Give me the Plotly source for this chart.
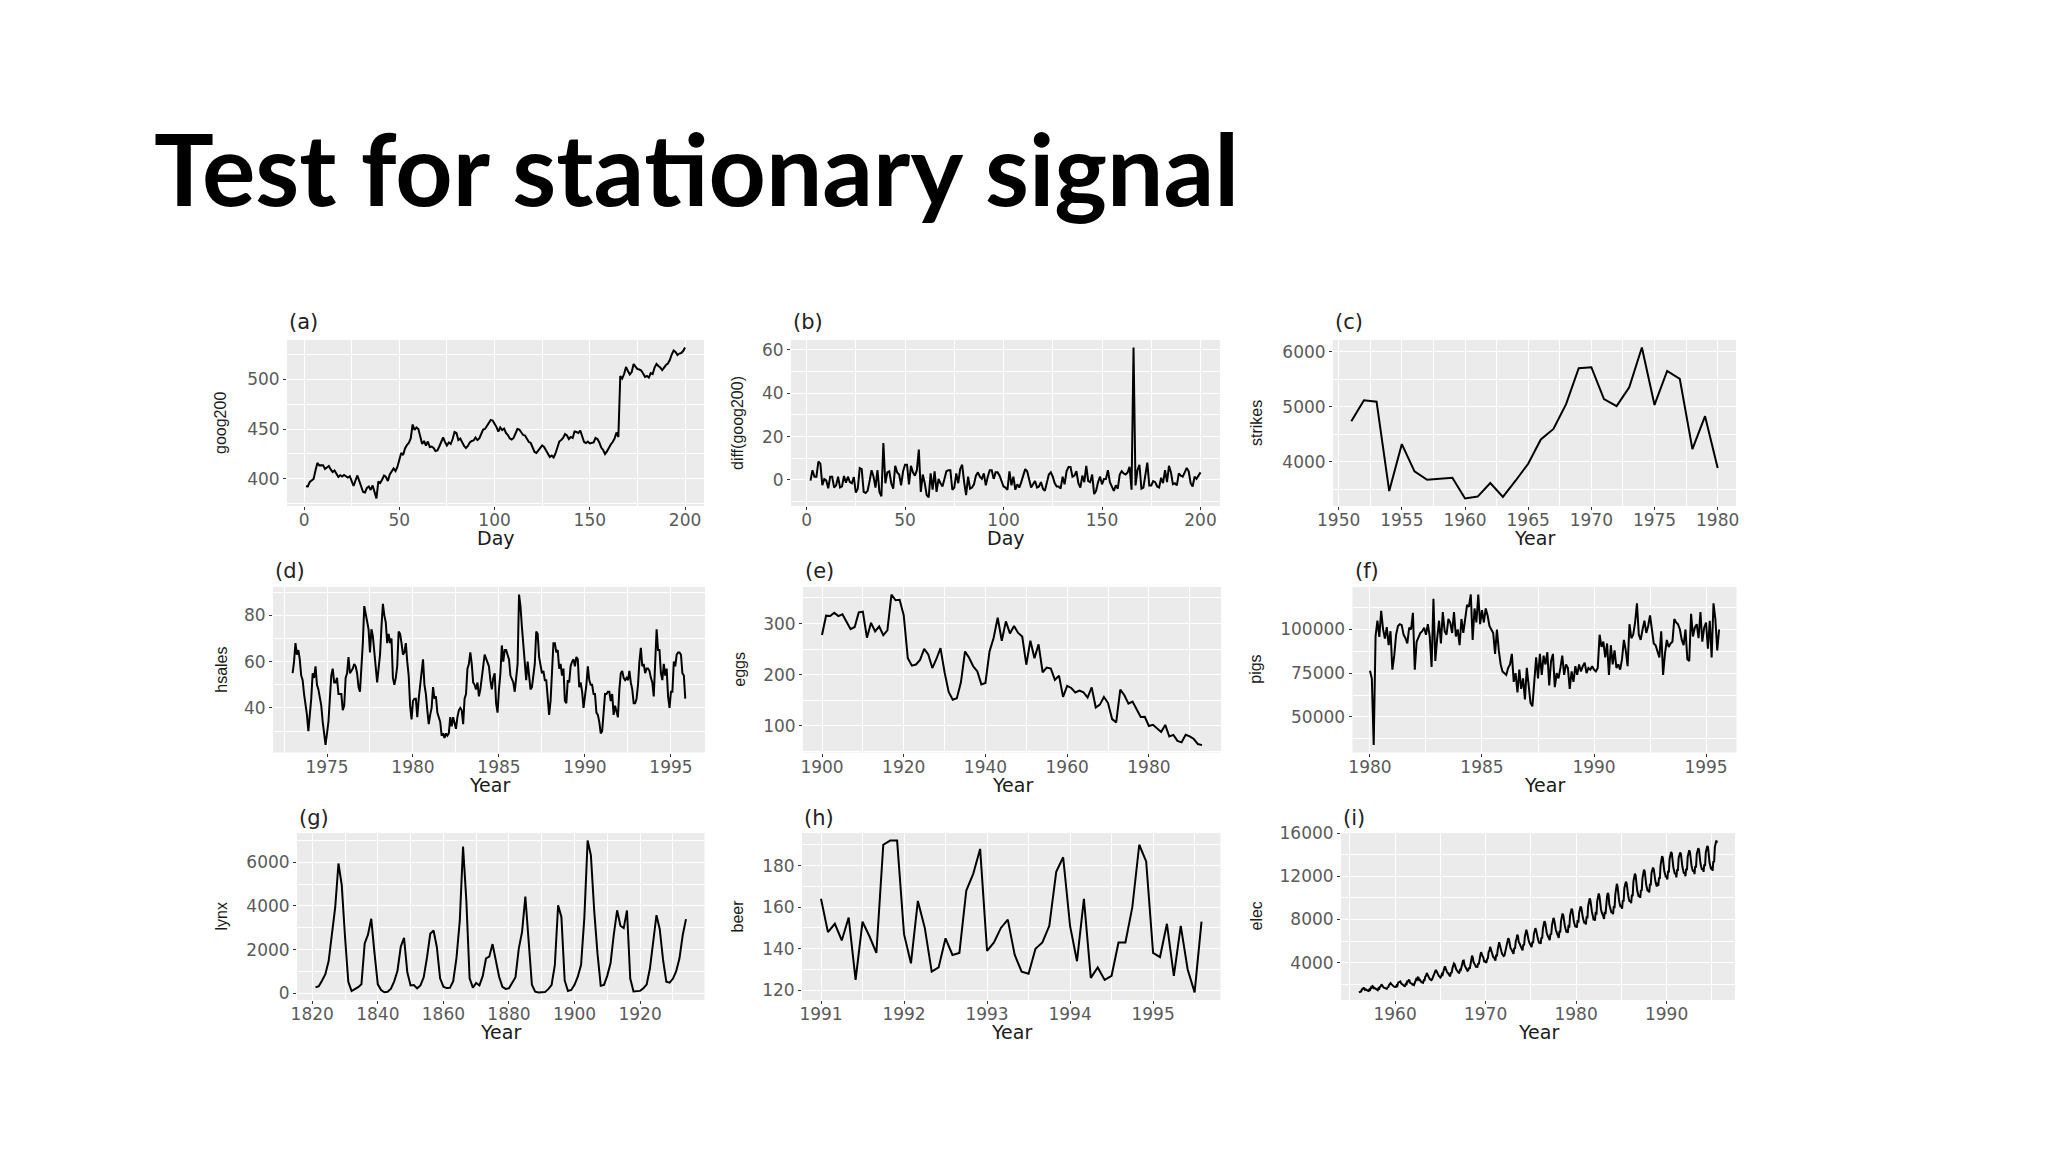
import numpy as np
import plotly.graph_objects as go

W, H = 2048, 1152

# ---------------- DATA ----------------
goog200 = [
    392.8, 392.5, 397.0, 398.5, 400.0, 408.5, 416.0, 413.6, 414.0, 413.8,
    410.0, 411.5, 413.0, 409.5, 407.0, 408.5, 405.0, 402.0, 403.8, 402.5,
    404.0, 403.0, 401.5, 402.8, 397.0, 393.0, 398.5, 403.5, 398.0, 392.0,
    387.0, 386.5, 391.0, 392.5, 389.0, 393.5, 388.0, 380.5, 397.5, 396.0,
    399.5, 403.5, 402.0, 398.0, 404.5, 408.0, 410.5, 408.0, 412.0, 419.0,
    426.0, 424.0, 430.5, 434.0, 436.0, 440.5, 454.5, 449.0, 451.5, 450.0,
    443.0, 435.0, 438.0, 433.5, 437.5, 432.0, 432.5, 431.0, 428.0, 428.5,
    432.5, 437.0, 441.5, 437.0, 433.5, 436.5, 435.0, 440.0, 447.0, 446.0,
    439.0, 440.5, 436.5, 433.0, 431.0, 433.0, 436.5, 438.0, 438.5, 441.5,
    439.0, 440.5, 445.0, 449.5, 450.0, 453.5, 457.0, 459.0, 458.5, 455.5,
    452.0, 447.5, 451.5, 449.0, 450.5, 446.0, 444.0, 440.5, 439.5, 441.0,
    446.0, 450.0, 449.5, 446.0, 444.0, 443.5, 440.0, 437.0, 436.0, 432.0,
    427.0, 426.0, 428.5, 432.0, 433.5, 432.0, 429.0, 426.0, 422.0, 423.5,
    421.5, 425.5, 431.5, 437.5, 439.0, 441.0, 445.0, 443.5, 440.0, 442.0,
    441.0, 447.5, 447.0, 446.0, 448.5, 442.0, 437.0, 436.0, 437.5, 435.5,
    436.0, 436.5, 441.0, 440.0, 436.5, 431.5, 429.0, 425.0, 427.5, 431.5,
    434.5, 437.0, 440.5, 446.5, 442.0, 503.0, 500.5, 505.0, 512.0, 508.0,
    504.5, 507.0, 515.0, 512.5, 510.0, 509.5, 508.5, 505.5, 502.0, 503.0,
    501.5, 506.0, 505.0, 511.5, 515.0, 513.0, 511.5, 509.0, 512.0, 514.0,
    515.5, 519.0, 524.5, 528.5, 527.0, 524.0, 525.5, 526.0, 528.0, 531.5,
]
goog_days = list(range(1, 201))

strikes_years = list(range(1951, 1981))
strikes = [4737, 5117, 5091, 3468, 4320, 3825, 3673, 3694, 3708, 3333,
           3367, 3614, 3362, 3655, 3963, 4405, 4595, 5045, 5700, 5716,
           5138, 5010, 5353, 6074, 5031, 5648, 5506, 4230, 4827, 3885]

hsales_start = 1973
hsales = [
    55, 60, 68, 63, 65, 61, 54, 52, 46, 42, 37, 30,
    37, 44, 55, 53, 58, 50, 48, 45, 41, 34, 30, 24,
    29, 34, 44, 54, 57, 51, 51, 53, 46, 46, 46, 39,
    41, 53, 55, 62, 55, 56, 57, 59, 58, 55, 49, 47,
    57, 68, 84, 81, 78, 74, 64, 74, 71, 63, 55, 51,
    57, 63, 75, 85, 80, 77, 68, 72, 68, 70, 53, 50,
    53, 58, 73, 72, 68, 63, 64, 68, 60, 54, 41, 35,
    43, 44, 44, 36, 44, 50, 55, 61, 50, 46, 39, 33,
    37, 40, 49, 44, 45, 38, 36, 34, 28, 29, 27, 29,
    28, 29, 36, 32, 36, 34, 31, 36, 39, 40, 39, 33,
    44, 46, 57, 59, 64, 59, 51, 50, 48, 51, 45, 48,
    52, 58, 63, 61, 59, 58, 52, 48, 53, 55, 42, 38,
    48, 55, 67, 60, 65, 65, 63, 61, 54, 52, 51, 47,
    55, 59, 89, 84, 75, 66, 57, 52, 60, 54, 48, 49,
    53, 59, 73, 72, 62, 58, 55, 56, 52, 52, 43, 37,
    43, 55, 68, 68, 64, 65, 57, 59, 54, 57, 43, 42,
    52, 51, 58, 60, 61, 58, 62, 61, 49, 51, 47, 40,
    45, 50, 58, 52, 50, 50, 46, 46, 38, 37, 34, 29,
    30, 40, 46, 46, 47, 47, 43, 46, 37, 41, 39, 36,
    48, 55, 56, 53, 52, 53, 52, 56, 51, 48, 42, 42,
    44, 50, 60, 66, 58, 59, 55, 57, 57, 56, 53, 51,
    45, 58, 74, 65, 65, 55, 52, 59, 54, 57, 45, 40,
    47, 47, 60, 58, 63, 64, 64, 63, 55, 54, 44,
]

eggs_years = list(range(1900, 1994))
eggs = [
    277.48, 315.42, 314.87, 321.25, 314.54, 317.92, 303.39, 288.94, 293.35, 321.83,
    323.45, 272.36, 301.42, 284.48, 294.33, 277.41, 286.61, 356.75, 345.49, 346.59,
    316.32, 232.20, 217.68, 219.92, 228.92, 250.44, 239.42, 212.91, 230.71, 252.08,
    204.80, 166.16, 151.09, 153.99, 185.01, 245.50, 232.98, 216.48, 206.71, 181.01,
    183.90, 245.44, 271.90, 311.39, 266.41, 304.26, 280.69, 295.10, 281.63, 274.44,
    219.49, 266.46, 232.18, 259.48, 204.76, 213.77, 212.00, 189.82, 198.26, 156.48,
    178.01, 174.01, 165.29, 168.70, 165.32, 155.18, 175.09, 135.77, 141.45, 156.32,
    144.49, 113.10, 106.71, 170.80, 159.71, 143.32, 147.39, 131.10, 117.42, 117.70,
    99.75, 101.92, 94.26, 88.07, 101.76, 79.02, 82.21, 70.54, 67.66, 82.57,
    79.46, 74.16, 64.34, 62.26,
]

pigs_start = 1980
pigs = [
    76400, 71900, 33900, 96400, 105100, 95700, 110600, 100200, 94800, 101300, 91000, 99000,
    77000, 85000, 97000, 102000, 103000, 102500, 97000, 95000, 92000, 101000, 100000, 109500,
    77000, 93000, 95500, 98000, 99000, 101000, 97000, 103000, 96000, 78500, 117500, 82000,
    95000, 105000, 92000, 110000, 99000, 97000, 106000, 104000, 98000, 110000, 96000, 100000,
    91000, 106000, 98000, 107000, 114000, 113000, 120000, 94000, 112000, 104000, 120000, 103000,
    111000, 104000, 112000, 108000, 102000, 100000, 98000, 86000, 100000, 88000, 80000, 76000,
    75000, 74000, 78000, 80000, 86000, 70000, 75000, 64000, 77000, 66000, 72000, 60000,
    78000, 66000, 58000, 56000, 70000, 84000, 72000, 86000, 74000, 85000, 80000, 87000,
    68000, 82000, 86000, 67000, 75000, 72000, 78000, 85000, 74000, 80000, 78000, 66000,
    76000, 70000, 79000, 74000, 80000, 76000, 79000, 81000, 75000, 78000, 77000, 79000,
    77000, 76000, 78000, 97000, 90000, 93000, 84000, 92000, 74000, 91000, 80000, 88000,
    78000, 80000, 77000, 83000, 94000, 88000, 79000, 103000, 95000, 97000, 104000, 115000,
    97000, 94000, 100000, 105000, 98000, 102000, 108000, 99000, 92000, 91000, 88000, 84000,
    99000, 74000, 86000, 94000, 90000, 92000, 93000, 106000, 104000, 103000, 100000, 94000,
    91000, 100000, 83000, 82000, 109000, 96000, 101000, 103000, 95000, 110000, 93000, 101000,
    104000, 89000, 105000, 84000, 115000, 106000, 88000, 100000,
]

lynx_start = 1821
lynx = [
    269, 321, 585, 871, 1475, 2821, 3928, 5943, 4950, 2577, 523, 98, 184, 279, 409,
    2285, 2685, 3409, 1824, 409, 151, 45, 68, 213, 546, 1033, 2129, 2536, 957, 361,
    377, 225, 360, 731, 1638, 2725, 2871, 2119, 684, 299, 236, 245, 552, 1623, 3311,
    6721, 4254, 687, 255, 473, 358, 784, 1594, 1676, 2251, 1426, 756, 299, 201, 229,
    469, 736, 2042, 2811, 4431, 2511, 389, 73, 39, 49, 59, 188, 377, 1292, 4031,
    3495, 587, 105, 153, 387, 758, 1307, 3465, 6991, 6313, 3794, 1836, 345, 382, 808,
    1388, 2713, 3800, 3091, 2985, 3790, 674, 81, 80, 108, 229, 399, 1132, 2432, 3574,
    2935, 1537, 529, 485, 662, 1000, 1590, 2657, 3396,
]

beer_start = 1991
beer = [
    164, 148, 152, 144, 155, 125, 153, 146, 138, 190, 192, 192,
    147, 133, 163, 150, 129, 131, 145, 137, 138, 168, 176, 188,
    139, 143, 150, 154, 137, 129, 128, 140, 143, 151, 177, 184,
    151, 134, 164, 126, 131, 125, 127, 143, 143, 160, 190, 182,
    138, 136, 152, 127, 151, 130, 119, 153,
]

elec_start = 1956
elec = [
    1254, 1290, 1379, 1346, 1535, 1555, 1655, 1651, 1500, 1538, 1486, 1394,
    1409, 1387, 1543, 1502, 1693, 1616, 1841, 1787, 1631, 1649, 1586, 1500,
    1497, 1463, 1648, 1595, 1777, 1824, 1994, 1835, 1787, 1699, 1633, 1645,
    1597, 1577, 1709, 1756, 1936, 2052, 2105, 2016, 1914, 1925, 1824, 1765,
    1721, 1752, 1914, 1857, 2159, 2195, 2287, 2276, 2096, 2055, 2004, 1924,
    1851, 1839, 2019, 1937, 2270, 2251, 2382, 2364, 2129, 2110, 2072, 1980,
    1995, 1932, 2171, 2162, 2489, 2424, 2641, 2630, 2324, 2412, 2284, 2186,
    2184, 2144, 2379, 2383, 2717, 2774, 3051, 2891, 2613, 2600, 2493, 2410,
    2390, 2463, 2616, 2734, 2970, 3125, 3342, 3207, 2964, 2919, 2764, 2732,
    2622, 2698, 2950, 2895, 3200, 3408, 3679, 3473, 3154, 3107, 3052, 2918,
    2786, 2739, 3125, 3033, 3486, 3661, 3927, 3851, 3456, 3390, 3280, 3166,
    3080, 3069, 3340, 3310, 3798, 3883, 4191, 4213, 3766, 3628, 3520, 3322,
    3250, 3287, 3552, 3440, 4153, 4265, 4655, 4492, 4051, 3967, 3807, 3639,
    3647, 3560, 3929, 3858, 4485, 4697, 4977, 4675, 4596, 4491, 4127, 4144,
    4014, 3994, 4320, 4400, 5002, 5091, 5471, 5193, 4997, 4737, 4546, 4498,
    4350, 4206, 4743, 4582, 5191, 5457, 5891, 5618, 5158, 5030, 4800, 4654,
    4618, 4668, 5030, 5061, 5790, 5848, 6260, 6158, 5505, 5357, 5268, 5128,
    4950, 4820, 5380, 5300, 6020, 6200, 6600, 6450, 5880, 5800, 5600, 5420,
    5360, 5150, 5700, 5600, 6400, 6650, 7050, 6800, 6250, 6100, 5850, 5700,
    5600, 5450, 5950, 5800, 6650, 6900, 7200, 7000, 6500, 6300, 6050, 5800,
    5900, 5750, 6350, 6250, 7150, 7450, 7850, 7700, 6950, 6800, 6550, 6350,
    6300, 6100, 6700, 6600, 7450, 7800, 8150, 7950, 7250, 7100, 6850, 6600,
    6450, 6300, 6950, 6800, 7850, 8250, 8550, 8400, 7650, 7450, 7150, 6900,
    6950, 6750, 7500, 7250, 8350, 8750, 9000, 8850, 8050, 7850, 7550, 7300,
    7400, 7250, 7950, 7700, 8600, 8950, 9200, 9050, 8350, 8150, 7900, 7650,
    7750, 7550, 8300, 8100, 9250, 9650, 9950, 9750, 8900, 8700, 8400, 8050,
    8100, 7900, 8700, 8450, 9700, 10100, 10400, 10150, 9200, 8950, 8650, 8300,
    8300, 8050, 8700, 8500, 9600, 10100, 10450, 10300, 9400, 9200, 8900, 8600,
    8700, 8500, 9250, 9050, 10300, 10800, 11300, 11050, 10000, 9750, 9400, 9150,
    9300, 9000, 9800, 9650, 10900, 11300, 11500, 11350, 10500, 10250, 9900, 9650,
    9750, 9500, 10300, 10150, 11500, 12000, 12250, 12050, 11000, 10700, 10400, 10100,
    10300, 10000, 10750, 10650, 11800, 12300, 12600, 12450, 11450, 11200, 10900, 10600,
    10800, 10500, 11300, 11150, 12300, 12600, 12800, 12650, 11800, 11600, 11300, 11050,
    11400, 11100, 11900, 11750, 13000, 13500, 13850, 13700, 12700, 12450, 12200, 11900,
    12000, 11700, 12500, 12350, 13600, 14000, 14250, 14100, 13050, 12800, 12500, 12200,
    12300, 11900, 12650, 12500, 13700, 14000, 14200, 14050, 13100, 12850, 12550, 12250,
    12350, 12000, 12700, 12550, 13800, 14150, 14400, 14250, 13250, 13000, 12700, 12450,
    12600, 12200, 12950, 12800, 14050, 14400, 14600, 14450, 13400, 13150, 12850, 12600,
    12750, 12400, 13100, 12950, 14200, 14550, 14800, 14650, 13550, 13250, 12950, 12650,
    12850, 12500, 13400, 13300, 14700, 15000, 15300, 15100,
]


def monthly(start, n):
    return [start + i / 12 for i in range(n)]


diff_goog = list(np.diff(goog200))
diff_days = goog_days[1:]

# ---------------- PANELS ----------------
ROW_Y = [(340, 506), (587, 752.5), (833, 1000)]

panels = [
    dict(tag="(a)", x=goog_days, y=goog200, xdom=(287, 704),
         xr=(-8.95, 209.95), yr=(372.95, 539.05), xd=50, yd=50,
         ylab="goog200", xlab="Day", ylx=220),
    dict(tag="(b)", x=diff_days, y=diff_goog, xdom=(791, 1220),
         xr=(-7.9, 209.9), yr=(-12, 64.5), xd=50, yd=20,
         ylab="diff(goog200)", xlab="Day", ylx=737),
    dict(tag="(c)", x=strikes_years, y=strikes, xdom=(1333, 1736),
         xr=(1949.55, 1981.45), yr=(3196, 6211), xd=5, yd=1000,
         ylab="strikes", xlab="Year", ylx=1256),
    dict(tag="(d)", x=monthly(hsales_start, len(hsales)), y=hsales, xdom=(273, 705),
         xr=(1971.86, 1996.98), yr=(20.75, 92.25), xd=5, yd=20,
         ylab="hsales", xlab="Year", ylx=222),
    dict(tag="(e)", x=eggs_years, y=eggs, xdom=(803, 1221),
         xr=(1895.35, 1997.65), yr=(47.8, 371.5), xd=20, yd=100,
         ylab="eggs", xlab="Year", ylx=740),
    dict(tag="(f)", x=monthly(pigs_start, len(pigs)), y=pigs, xdom=(1352.5, 1736.5),
         xr=(1979.22, 1996.36), yr=(29600, 124300), xd=5, yd=25000,
         ylab="pigs", xlab="Year", ylx=1256),
    dict(tag="(g)", x=list(range(lynx_start, lynx_start + len(lynx))), y=lynx,
         xdom=(297, 704.5), xr=(1815.35, 1939.65), yr=(-308.6, 7338.6),
         xd=20, yd=2000, ylab="lynx", xlab="Year", ylx=221),
    dict(tag="(h)", x=monthly(beer_start, len(beer)), y=beer, xdom=(802, 1220.5),
         xr=(1990.771, 1995.812), yr=(115.35, 195.65), xd=1, yd=20,
         ylab="beer", xlab="Year", ylx=737),
    dict(tag="(i)", x=monthly(elec_start, len(elec)), y=elec, xdom=(1341, 1735),
         xr=(1954.02, 1997.56), yr=(552, 16002), xd=10, yd=4000,
         ylab="elec", xlab="Year", ylx=1256),
]

title_y = {0: 322, 1: 571, 2: 818}

FONT = "DejaVu Sans"
YFONT = "Liberation Sans"
fig = go.Figure()
layout = dict(
    width=W, height=H, margin=dict(l=0, r=0, t=0, b=0, pad=0),
    paper_bgcolor="white", plot_bgcolor="#EBEBEB", showlegend=False,
    font=dict(family=FONT, color="#222222"),
)
annotations = []


def px(xp):
    return xp / W


def py(yp):
    return 1 - yp / H


for i, p in enumerate(panels):
    n = i + 1
    row = i // 3
    ytop, ybot = ROW_Y[row]
    xa = "x" if n == 1 else f"x{n}"
    ya = "y" if n == 1 else f"y{n}"
    fig.add_trace(go.Scatter(x=p["x"], y=p["y"], mode="lines",
                             line=dict(color="black", width=2),
                             xaxis=xa, yaxis=ya, hoverinfo="skip"))
    common = dict(
        showgrid=True, gridcolor="white", gridwidth=1.3, zeroline=False,
        ticks="outside", ticklen=3, tickwidth=1, tickcolor="#333333",
        tickfont=dict(family=FONT, size=17, color="#5a5a5a"),
        showline=False, tickformat="d", automargin=False,
    )
    xkey = "xaxis" if n == 1 else f"xaxis{n}"
    ykey = "yaxis" if n == 1 else f"yaxis{n}"
    layout[xkey] = dict(
        common, domain=[px(p["xdom"][0]), px(p["xdom"][1])], range=list(p["xr"]),
        anchor=ya, tick0=0, dtick=p["xd"], ticklabelstandoff=-4,
        minor=dict(tick0=0, dtick=p["xd"] / 2, showgrid=True, gridcolor="white",
                   gridwidth=0.6, ticks=""),
    )
    layout[ykey] = dict(
        common, domain=[py(ybot), py(ytop)], range=list(p["yr"]),
        anchor=xa, tick0=0, dtick=p["yd"],
        minor=dict(tick0=0, dtick=p["yd"] / 2, showgrid=True, gridcolor="white",
                   gridwidth=0.6, ticks=""),
    )
    annotations.append(dict(
        text=p["tag"], x=px(p["xdom"][0]), y=py(title_y[row]), xref="paper", yref="paper",
        xanchor="left", yanchor="middle", showarrow=False,
        font=dict(family=FONT, size=21, color="#222222")))
    annotations.append(dict(
        text=p["xlab"], x=px((p["xdom"][0] + p["xdom"][1]) / 2),
        y=py(ybot + 32), xref="paper", yref="paper",
        xanchor="center", yanchor="middle", showarrow=False, borderpad=0,
        font=dict(family=FONT, size=19, color="#1a1a1a")))
    annotations.append(dict(
        text=p["ylab"], x=px(p["ylx"]), y=py((ytop + ybot) / 2),
        xref="paper", yref="paper", xanchor="center", yanchor="middle",
        textangle=-90, showarrow=False,
        font=dict(family=YFONT, size=16, color="#1a1a1a")))

annotations.append(dict(
    text="Test for sta\u200cti\u200conary signal", x=px(152), y=py(167),
    xref="paper", yref="paper",
    xanchor="left", yanchor="middle", showarrow=False,
    font=dict(family="Lato", size=100, color="#000000", weight=700)))

layout["annotations"] = annotations
fig.update_layout(**layout)
fig.write_html(
    "out.html",
    config={"displayModeBar": False},
    post_script="document.body.style.margin='0';document.body.style.padding='0';"
                "document.documentElement.style.overflow='hidden';",
)
